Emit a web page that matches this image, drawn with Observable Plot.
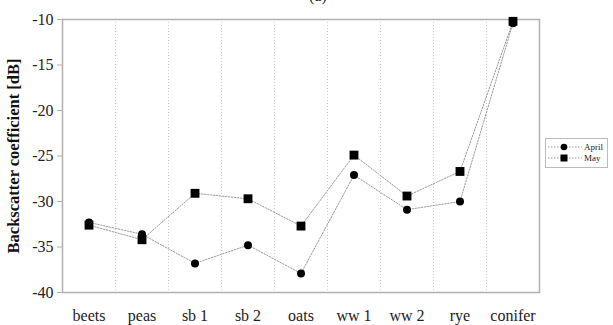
<!DOCTYPE html>
<html>
<head>
<meta charset="utf-8">
<script src="https://cdn.jsdelivr.net/npm/d3@7"></script>
<script src="https://cdn.jsdelivr.net/npm/@observablehq/plot@0.6"></script>
<style>
  html, body { margin: 0; padding: 0; background: #fff; }
  #wrap { position: relative; width: 613px; height: 325px; overflow: hidden; font-family: "Liberation Serif", "DejaVu Serif", serif; }
  #title { position: absolute; top: -13px; left: 309px; font-size: 16px; color: #222; }
  #legend { position: absolute; left: 545px; top: 138px; width: 63px; height: 30px; border: 1px solid #bbb; box-sizing: border-box; font-size: 9px; color: #222; }
  #legend .row { position: absolute; left: 0; height: 10px; display: flex; align-items: center; }
  #legend svg { display: block; }
</style>
</head>
<body>
<div id="wrap">
  <div id="title">(a)</div>
  <div id="chart"></div>
  <div id="legend"></div>
</div>
<script>
const categories = ["beets", "peas", "sb 1", "sb 2", "oats", "ww 1", "ww 2", "rye", "conifer"];
const april = [-32.3, -33.6, -36.8, -34.8, -37.9, -27.1, -30.9, -30.0, -10.4];
const may = [-32.6, -34.2, -29.1, -29.7, -32.7, -24.9, -29.4, -26.7, -10.2];
const yTicks = [-10, -15, -20, -25, -30, -35, -40];
const seriesNames = ["April", "May"];

const rows = [];
categories.forEach((c, i) => {
  rows.push({i, cat: c, series: "April", value: april[i]});
  rows.push({i, cat: c, series: "May", value: may[i]});
});
const boundaries = categories.slice(1).map((_, k) => k + 0.5);

const chart = Plot.plot({
  width: 613,
  height: 325,
  marginLeft: 62,
  marginRight: 74,
  marginTop: 19,
  marginBottom: 33,
  style: {fontFamily: "'Liberation Serif', 'DejaVu Serif', serif", fontSize: "16px", color: "#222", background: "#fff"},
  x: {type: "linear", domain: [-0.5, categories.length - 0.5]},
  y: {domain: [-40, -10]},
  marks: [
    Plot.ruleX(boundaries, {stroke: "#cfcfcf", strokeDasharray: "1,2", strokeWidth: 1}),
    Plot.frame({stroke: "#b0b0b0", strokeWidth: 1.5}),
    Plot.axisY(yTicks, {tickSize: 5, tickPadding: 4, stroke: "#b0b0b0", fontSize: 16, tickFormat: d => String(d).replace("\u2212", "-"), label: null}),
    Plot.axisX(categories.map((_, i) => i), {tickSize: 0, tickPadding: 17, fontSize: 16, tickFormat: i => categories[i], label: null}),
    Plot.text(["Backscatter coefficient [dB]"], {frameAnchor: "left", textAnchor: "middle", dx: -49, rotate: -90, fontWeight: "bold", fontSize: 16.5, fill: "#111"}),
    Plot.line(rows, {x: "i", y: "value", z: "series", stroke: "#9a9a9a", strokeWidth: 1, strokeDasharray: "1.5,1.5"}),
    Plot.dot(rows.filter(d => d.series === "April"), {x: "i", y: "value", r: 4, symbol: "circle", fill: "#000"}),
    Plot.dot(rows.filter(d => d.series === "May"), {x: "i", y: "value", r: 5, symbol: "square", fill: "#000"})
  ]
});
document.getElementById("chart").appendChild(chart);

// legend
const legend = document.getElementById("legend");
seriesNames.forEach((name, k) => {
  const row = document.createElement("div");
  row.className = "row";
  row.style.top = (3 + k * 11) + "px";
  const sym = k === 0
    ? '<circle cx="18" cy="5" r="3.3" fill="#000"/>'
    : '<rect x="14.5" y="1.5" width="7" height="7" fill="#000"/>';
  row.innerHTML = '<svg width="37" height="10"><line x1="2" x2="36" y1="5" y2="5" stroke="#999" stroke-dasharray="1.5,1.5"/>' + sym + '</svg><span style="margin-left:1px">' + name + '</span>';
  legend.appendChild(row);
});
</script>
</body>
</html>
